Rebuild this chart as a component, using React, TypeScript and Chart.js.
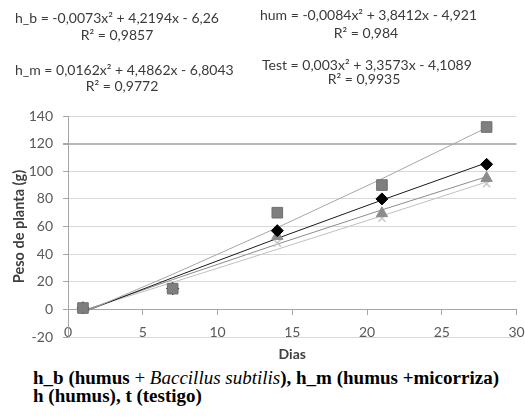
import React, { useEffect, useRef } from "react";
import { Chart, registerables } from "chart.js";

Chart.register(...registerables);

// ---- data ----
const days = [1, 7, 14, 21, 28];
const hbValues = [1, 15, 57, 80, 105];
const hmValues = [1, 15, 70, 90, 132];
const humValues = [1, 15, 53, 69.5, 95];
const testValues = [1, 15, 48, 66, 91];

// quadratic trendline coefficients [a, b, c] : a*x^2 + b*x + c
const hbFit = [-0.0073, 4.2194, -6.26];
const hmFit = [0.0162, 4.4862, -6.8043];
const humFit = [-0.0084, 3.8412, -4.921];
const testFit = [0.003, 3.3573, -4.1089];

const xTicks = [0, 5, 10, 15, 20, 25, 30];
const yTicks = [-20, 0, 20, 40, 60, 80, 100, 120, 140];

const equationTexts = [
  "h_b = -0,0073x² + 4,2194x - 6,26",
  "R² = 0,9857",
  "h_m = 0,0162x² + 4,4862x - 6,8043",
  "R² = 0,9772",
  "hum = -0,0084x² + 3,8412x - 4,921",
  "R² = 0,984",
  "Test = 0,003x² + 3,3573x - 4,1089",
  "R² = 0,9935",
];

const fitAt = (c: number[], x: number) => c[0] * x * x + c[1] * x + c[2];
const points = (vals: number[]) => days.map((d, i) => ({ x: d, y: vals[i] }));
const trend = (c: number[]) => days.map((d) => ({ x: d, y: fitAt(c, d) }));

const FAMILY = 'Lato, "Open Sans", sans-serif';
const EQ_FONT = '14px Lato, "Open Sans", sans-serif';

const equationPlugin = {
  id: "equations",
  afterDraw(chart: any) {
    const ctx = chart.ctx;
    ctx.save();
    ctx.fillStyle = "#3a3a3a";
    ctx.font = EQ_FONT;
    ctx.textBaseline = "middle";
    // [anchorX, y, align]
    const place: [number, number, CanvasTextAlign][] = [
      [15, 18, "left"],
      [117, 35, "center"],
      [15, 70, "left"],
      [122, 86, "center"],
      [260, 15, "left"],
      [366, 33, "center"],
      [262, 65, "left"],
      [364, 79, "center"],
    ];
    equationTexts.forEach((t, i) => {
      const [x, y, a] = place[i];
      ctx.textAlign = a;
      ctx.fillText(t, x, y);
    });
    ctx.restore();
  },
};

export default function App() {
  const ref = useRef<HTMLCanvasElement | null>(null);

  useEffect(() => {
    if (!ref.current) return;
    const tickFont = { family: FAMILY, size: 14 };
    const chart = new Chart(ref.current, {
      type: "scatter",
      data: {
        datasets: [
          {
            label: "h_m",
            data: points(hmValues),
            pointStyle: "rect",
            pointRadius: 7.5,
            backgroundColor: "#7f7f7f",
            borderColor: "#6f6f6f",
            borderWidth: 1,
            order: 0,
          },
          {
            label: "h_b",
            data: points(hbValues),
            pointStyle: "rectRot",
            pointRadius: 6,
            backgroundColor: "#000000",
            borderColor: "#000000",
            borderWidth: 1,
            order: 1,
          },
          {
            label: "hum",
            data: points(humValues),
            pointStyle: "triangle",
            pointRadius: 6.5,
            backgroundColor: "#8c8c8c",
            borderColor: "#8c8c8c",
            borderWidth: 1,
            order: 2,
          },
          {
            label: "Test",
            data: points(testValues),
            pointStyle: "crossRot",
            pointRadius: 5,
            backgroundColor: "#c8c8c8",
            borderColor: "#c8c8c8",
            borderWidth: 1.5,
            order: 3,
          },
          {
            label: "h_m trend",
            data: trend(hmFit),
            showLine: true,
            pointRadius: 0,
            borderColor: "#a6a6a6",
            borderWidth: 1,
            order: 10,
          },
          {
            label: "h_b trend",
            data: trend(hbFit),
            showLine: true,
            pointRadius: 0,
            borderColor: "#1a1a1a",
            borderWidth: 1,
            order: 11,
          },
          {
            label: "hum trend",
            data: trend(humFit),
            showLine: true,
            pointRadius: 0,
            borderColor: "#8c8c8c",
            borderWidth: 1,
            order: 12,
          },
          {
            label: "Test trend",
            data: trend(testFit),
            showLine: true,
            pointRadius: 0,
            borderColor: "#c0c0c0",
            borderWidth: 1,
            order: 13,
          },
        ],
      },
      options: {
        animation: false,
        responsive: false,
        layout: { padding: { left: 0, right: 7, top: 116, bottom: 25 } },
        plugins: {
          legend: { display: false },
          tooltip: { enabled: false },
        },
        scales: {
          x: {
            type: "linear",
            position: { y: 0 } as any,
            min: 0,
            max: 30,
            afterBuildTicks: (s: any) => {
              s.ticks = xTicks.map((v) => ({ value: v }));
            },
            afterFit: (s: any) => {
              s.paddingLeft = 0;
              s.paddingRight = 0;
            },
            ticks: { font: tickFont, color: "#595959", padding: 10 },
            grid: {
              drawOnChartArea: false,
              drawTicks: true,
              tickLength: 5,
              tickColor: "#a6a6a6",
            },
            border: { color: "#a6a6a6", width: 1 },
            title: {
              display: true,
              text: "Dias",
              color: "#404040",
              font: { family: FAMILY, size: 14, weight: "bold" },
              padding: { top: -5, bottom: 0 },
            },
          },
          y: {
            type: "linear",
            min: -20,
            max: 140,
            afterBuildTicks: (s: any) => {
              s.ticks = yTicks.map((v) => ({ value: v }));
            },
            afterFit: (s: any) => {
              s.width = 68;
            },
            ticks: { font: tickFont, color: "#595959", padding: 10 },
            grid: {
              color: (c: any) => (c.tick && c.tick.value === 120 ? "#b8b8b8" : "#d9d9d9"),
              lineWidth: (c: any) => (c.tick && c.tick.value === 120 ? 2 : 1),
              tickLength: 5,
              tickColor: "#a6a6a6",
            },
            border: { color: "#a6a6a6", width: 1 },
            title: {
              display: true,
              text: "Peso de planta (g)",
              color: "#404040",
              font: { family: FAMILY, size: 14.5, weight: "bold" },
              padding: { top: 11, bottom: 0 },
            },
          },
        },
      },
      plugins: [equationPlugin],
    });
    return () => chart.destroy();
  }, []);

  return (
    <div style={{ position: "absolute", left: 0, top: 0, width: 525, height: 418, background: "#fff" }}>
      <canvas ref={ref} width={525} height={362} style={{ display: "block" }} />
      <div
        style={{
          position: "absolute",
          left: 33,
          top: 369,
          fontFamily: '"Liberation Serif", "Times New Roman", serif',
          fontWeight: "bold",
          fontSize: 19,
          lineHeight: "18px",
          color: "#000",
          whiteSpace: "nowrap",
        }}
      >
        h_b (humus <span style={{ fontWeight: "normal" }}>+ </span>
        <i style={{ fontWeight: "normal" }}>Baccillus subtilis</i>), h_m (humus +micorriza)
        <br />h (humus), t (testigo)
      </div>
    </div>
  );
}
